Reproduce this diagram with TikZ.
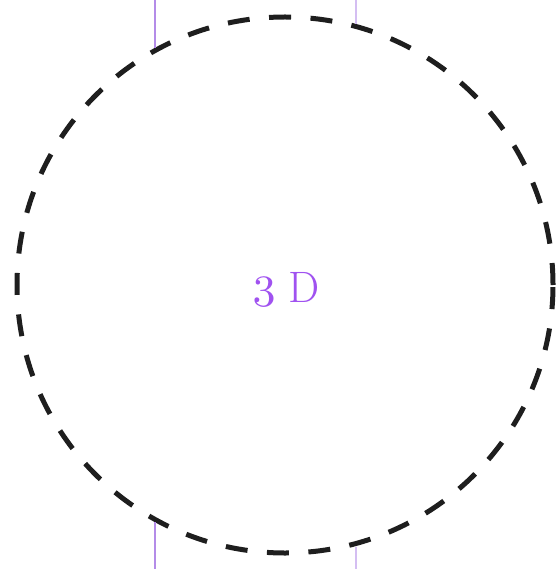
\documentclass[tikz,border=0pt]{standalone}
\usepackage{fontspec}
\setmainfont{Latin Modern Roman}
\definecolor{txtpurple}{RGB}{160,82,240}
\definecolor{lineA}{RGB}{180,140,232}
\definecolor{lineB}{RGB}{212,190,242}
\definecolor{ringc}{RGB}{30,30,30}
\tikzset{
  ring/.style={draw=ringc, line width=5pt, dash pattern=on 22pt off 19.5pt},
  lbl/.style={inner sep=0pt, text=txtpurple, font=\fontsize{44}{44}\selectfont},
  oldnum/.style={inner sep=0pt, text=txtpurple, scale=4.6, font=\fontsize{10}{12}\usefont{OML}{cmm}{m}{it}},
  wireA/.style={draw=lineA, line width=2.5pt},
  wireB/.style={draw=lineB, line width=2.5pt}
}
\begin{document}
\begin{tikzpicture}[x=1pt,y=-1pt]
\useasboundingbox (0,0) rectangle (557,569);
\node[ring, circle, minimum size=536pt, inner sep=0pt] (c) at (285,285) {};
\coordinate (t1) at (155,0);
\coordinate (t1e) at (155,48);
\coordinate (t2) at (356,0);
\coordinate (t2e) at (356,24);
\coordinate (b1) at (155,569);
\coordinate (b1e) at (155,522);
\coordinate (b2) at (356,569);
\coordinate (b2e) at (356,547);
\draw[wireA] (t1) -- (t1e);
\draw[wireB] (t2) -- (t2e);
\draw[wireA] (b1) -- (b1e);
\draw[wireB] (b2) -- (b2e);
\node[oldnum] (three) at (264,292) {3};
\node[lbl] (dee) at (304.5,287) {D};
\end{tikzpicture}
\end{document}
